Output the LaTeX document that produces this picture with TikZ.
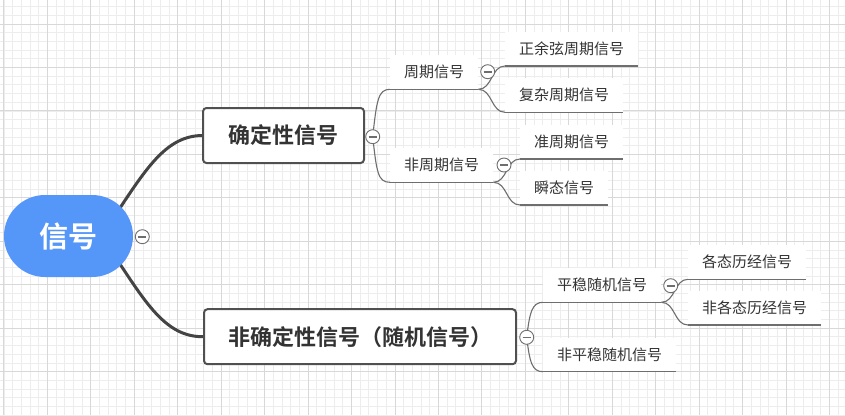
\documentclass[tikz,border=0pt]{standalone}
\usepackage{fontspec}
\newfontfamily\cjk{Noto Sans CJK SC}[BoldFont={Noto Sans CJK SC Bold}]
\definecolor{gridminor}{HTML}{EDEDED}
\definecolor{gridmajor}{HTML}{D8D8D8}
\definecolor{rootblue}{HTML}{5596F9}
\definecolor{txt}{HTML}{333333}
\definecolor{boxline}{HTML}{505050}
\definecolor{thinline}{HTML}{6E6E6E}
\definecolor{trunkline}{HTML}{444444}
\begin{document}
\begin{tikzpicture}[x=1pt,y=-1pt,
  topic/.style={fill=white, inner xsep=14pt, inner ysep=0pt, minimum height=34pt,
    anchor=south west, font=\cjk\fontsize{15}{18}\selectfont, text=txt},
  mainbox/.style={draw=boxline, line width=2pt, rounded corners=3.5pt, fill=white,
    font=\cjk\bfseries\fontsize{22}{26}\selectfont, text=txt, inner sep=0pt},
  rootnode/.style={fill=rootblue, rounded corners=41pt, minimum width=129pt,
    minimum height=82pt, inner sep=0pt, text=white,
    font=\cjk\bfseries\fontsize{29}{34}\selectfont},
  trunk/.style={draw=trunkline, line width=3pt},
  branch/.style={draw=thinline, line width=1.1pt},
  under/.style={draw=thinline, line width=1.1pt},
  knob/.style={circle, draw=thinline, fill=white, line width=0.9pt,
    minimum size=14pt, inner sep=0pt,
    path picture={\draw[thinline, line width=1.6pt] ([xshift=-4pt]path picture bounding box.center) -- ([xshift=4pt]path picture bounding box.center);}},
]
\useasboundingbox (0,0) rectangle (845,415);
\fill[white] (0,0) rectangle (845,415);
% grid
\foreach \i in {0,...,97} \draw[gridminor, line width=0.8pt] ({3.9+8.69*\i},0) -- ({3.9+8.69*\i},415);
\foreach \j in {0,...,47} \draw[gridminor, line width=0.8pt] (0,{6.62+8.69*\j}) -- (845,{6.62+8.69*\j});
\foreach \i in {0,...,19} \draw[gridmajor, line width=0.9pt] ({3.9+43.45*\i},0) -- ({3.9+43.45*\i},415);
\foreach \j in {0,...,8} \draw[gridmajor, line width=0.9pt] (0,{24+43.45*\j}) -- (845,{24+43.45*\j});

% main boxes
\node[mainbox, minimum width=161pt, minimum height=55pt] (box1) at (283.5,135.5) {确定性信号};
\node[mainbox, minimum width=312pt, minimum height=55pt] (box2) at (360,336.7) {非确定性信号（随机信号）};

% root and trunk connectors
\coordinate (rs1) at (112,220);
\coordinate (rs2) at (112,252);
\draw[trunk] (rs1) .. controls (145,170.5) and (165,136) .. (box1.west);
\draw[trunk] (rs2) .. controls (145,301.5) and (165,337) .. (box2.west);
\node[rootnode] (root) at (68.5,236) {信号};

% level 2 topics
\node[topic] (A) at (390,89.3) {周期信号};
\node[topic] (B) at (390,182.3) {非周期信号};
\node[topic] (C) at (543,302.3) {平稳随机信号};
\node[topic] (D) at (543,371.7) {非平稳随机信号};
% level 3 topics
\node[topic] (A1) at (505,66) {正余弦周期信号};
\node[topic] (A2) at (505,112.3) {复杂周期信号};
\node[topic] (B1) at (520,159) {准周期信号};
\node[topic] (B2) at (520,205) {瞬态信号};
\node[topic] (C1) at (688,279.3) {各态历经信号};
\node[topic] (C2) at (688,325) {非各态历经信号};

% underlines
\foreach \n in {A,B,C,D,A1,A2,B1,B2,C1,C2}
  \draw[under] (\n.south west) -- (\n.south east);

% knob coordinates
\node[knob] (k0) at (142.3,236.7) {};
\coordinate (k1c) at (372.7,136.7);
\coordinate (k2c) at (526.7,337.3);

% box -> level 2
\draw[branch] (k1c) .. controls +(4,-36) and +(-12,0) .. (A.south west);
\draw[branch] (k1c) .. controls +(4,36) and +(-12,0) .. (B.south west);
\draw[branch] (k2c) .. controls +(3,-25) and +(-11,0) .. (C.south west);
\draw[branch] (k2c) .. controls +(3,25) and +(-11,0) .. (D.south west);

% level 2 -> level 3
\draw[branch] (A.south east) .. controls +(14,0) and +(-14,0) .. (A1.south west);
\draw[branch] (A.south east) .. controls +(14,0) and +(-14,0) .. (A2.south west);
\draw[branch] (B.south east) .. controls +(14,0) and +(-14,0) .. (B1.south west);
\draw[branch] (B.south east) .. controls +(14,0) and +(-14,0) .. (B2.south west);
\draw[branch] (C.south east) .. controls +(14,0) and +(-14,0) .. (C1.south west);
\draw[branch] (C.south east) .. controls +(14,0) and +(-14,0) .. (C2.south west);

% knobs
\node[knob] (k1) at (k1c) {};
\node[knob] (k2) at (k2c) {};
\node[knob] (kA) at (487.7,71.7) {};
\node[knob] (kB) at (504,165) {};
\node[knob] (kC) at (670.7,285.7) {};
\end{tikzpicture}
\end{document}
